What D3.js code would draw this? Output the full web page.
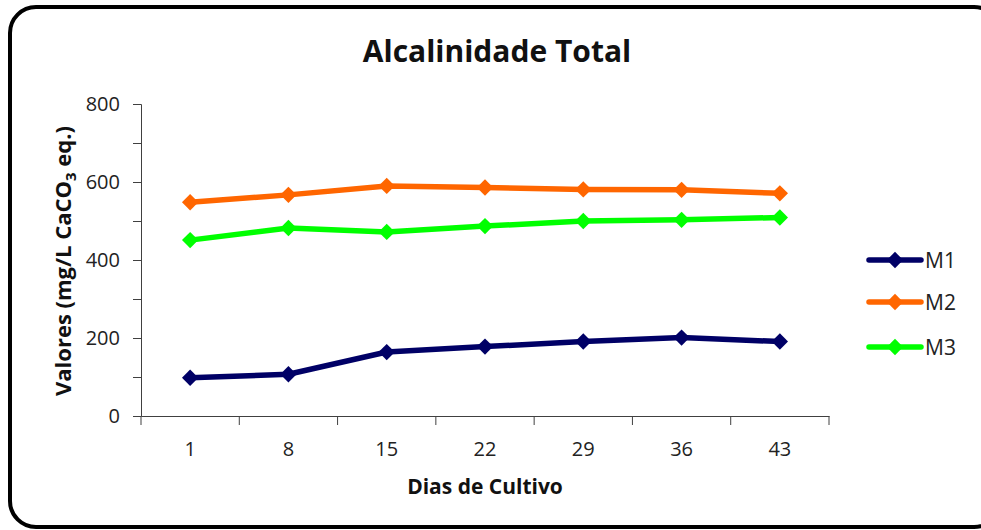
<!DOCTYPE html>
<html><head><meta charset="utf-8">
<script src="https://cdn.jsdelivr.net/npm/d3@7"></script>
<style>body{margin:0;background:#fff;} svg{display:block;}</style>
</head><body>
<script>
const days = ["1","8","15","22","29","36","43"];
const seriesNames = ["M1","M2","M3"];
const seriesColors = ["#000066","#FF6600","#00FF00"];
const M1 = [98, 107, 164, 178, 191, 201, 191];
const M2 = [548, 567, 590, 586, 581, 580, 571];
const M3 = [451, 482, 472, 487, 500, 503, 509];
const yTicks = [0, 100, 200, 300, 400, 500, 600, 700, 800];
const yLabels = [0, 200, 400, 600, 800];
const seriesValues = [M1, M2, M3];

const W = 981, H = 530;
const font = "'Open Sans', 'Noto Sans', sans-serif";
const svg = d3.select("body").append("svg").attr("width", W).attr("height", H);

svg.append("rect").attr("x", 10).attr("y", 7).attr("width", 990).attr("height", 520)
  .attr("rx", 26).attr("ry", 26).attr("fill", "#fff").attr("stroke", "#000").attr("stroke-width", 4);

const x = d3.scaleBand().domain(days).range([141, 829]);
const y = d3.scaleLinear().domain([0, 800]).range([416, 104]);
const axisColor = "#404040";

// y axis
const ya = svg.append("g").attr("transform", "translate(141,0)")
  .call(d3.axisLeft(y).tickValues(yTicks).tickSize(8).tickFormat(d => yLabels.includes(d) ? d : ""));
ya.select(".domain").attr("stroke", axisColor);
ya.selectAll(".tick line").attr("stroke", axisColor);
ya.selectAll(".tick text").attr("font-family", font).attr("font-size", 20).attr("fill", "#222").attr("dx", -10);

// x axis
const xa = svg.append("g").attr("transform", "translate(0,416)")
  .call(d3.axisBottom(x).tickSize(0).tickSizeOuter(0));
xa.select(".domain").attr("stroke", axisColor);
xa.selectAll(".tick text").attr("font-family", font).attr("font-size", 20).attr("fill", "#222").attr("dy", 37);
// band boundary ticks
const bounds = days.map(d => x(d)).concat([x(days[days.length-1]) + x.bandwidth()]);
xa.selectAll(".bt").data(bounds).enter().append("line")
  .attr("x1", d => d).attr("x2", d => d).attr("y1", 0).attr("y2", 9).attr("stroke", axisColor);

const cx = d => x(d) + x.bandwidth() / 2;
const diamond = d3.symbol().type(d3.symbolDiamond2).size(170);
const line = d3.line().x((v, i) => cx(days[i])).y(v => y(v));

seriesValues.forEach((vals, si) => {
  const g = svg.append("g");
  g.append("path").attr("d", line(vals)).attr("fill", "none")
    .attr("stroke", seriesColors[si]).attr("stroke-width", 5.5).attr("stroke-linejoin", "round");
  g.selectAll("path.m").data(vals).enter().append("path").attr("class", "m")
    .attr("d", diamond).attr("transform", (v, i) => `translate(${cx(days[i])},${y(v)})`)
    .attr("fill", seriesColors[si]);
});

// title
svg.append("text").attr("x", 497).attr("y", 62).attr("text-anchor", "middle")
  .attr("font-family", font).attr("font-weight", "bold").attr("font-size", 30).attr("fill", "#111")
  .text("Alcalinidade Total");

// x title
svg.append("text").attr("x", 485).attr("y", 494).attr("text-anchor", "middle")
  .attr("font-family", font).attr("font-weight", "bold").attr("font-size", 21).attr("fill", "#111")
  .text("Dias de Cultivo");

// y title
const yt = svg.append("text").attr("transform", "translate(71,261) rotate(-90)").attr("text-anchor", "middle")
  .attr("font-family", font).attr("font-weight", "bold").attr("font-size", 22).attr("fill", "#111");
yt.append("tspan").text("Valores (mg/L CaCO");
yt.append("tspan").attr("font-size", 15).attr("dy", 5).text("3");
yt.append("tspan").attr("dy", -5).text(" eq.)");

// legend
const legY = [260, 302, 347];
seriesNames.forEach((n, i) => {
  const g = svg.append("g").attr("transform", `translate(0,${legY[i]})`);
  g.append("line").attr("x1", 869).attr("x2", 921).attr("y1", 0).attr("y2", 0)
    .attr("stroke", seriesColors[i]).attr("stroke-width", 5.5).attr("stroke-linecap", "round");
  g.append("path").attr("d", diamond).attr("transform", "translate(895,0)").attr("fill", seriesColors[i]);
  g.append("text").attr("x", 925).attr("y", 8).attr("font-family", font).attr("font-size", 21)
    .attr("fill", "#222").text(n);
});
</script>
</body></html>
